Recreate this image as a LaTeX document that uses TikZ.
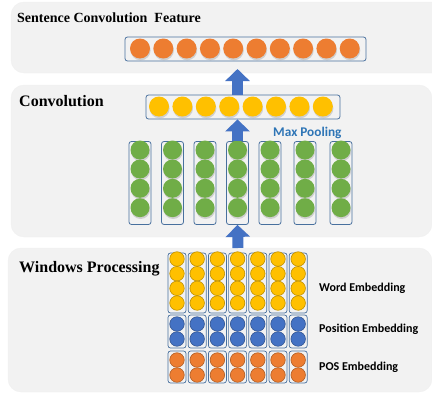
\documentclass[tikz,border=0pt]{standalone}
\usepackage{fontspec}
\setmainfont{Liberation Serif}
\newfontfamily\calibri{Carlito}
\usetikzlibrary{arrows.meta, positioning, shadows}
\definecolor{panelgray}{RGB}{242,242,242}
\definecolor{boxblue}{RGB}{72,112,158}
\definecolor{cnnorange}{RGB}{237,125,49}
\definecolor{cnnyellow}{RGB}{255,192,0}
\definecolor{cnngreen}{RGB}{112,173,71}
\definecolor{cnnblue}{RGB}{68,114,196}
\definecolor{poolblue}{RGB}{46,117,182}

\tikzset{
  panel/.style={fill=panelgray, draw=gray!12, rounded corners=13pt},
  layerbox/.style={draw=boxblue, line width=0.8pt, rounded corners=2.5pt, inner sep=0pt},
  unit/.style={circle, inner sep=0pt, minimum size=#1},
  shade/.style={drop shadow={opacity=0.3, shadow xshift=0.6pt, shadow yshift=-1.8pt}},
  rim/.style={draw=#1!75!black, line width=0.6pt},
  title/.style={font=\bfseries\fontsize{16}{18}\selectfont, anchor=base west, inner sep=0pt},
  tag/.style={font=\calibri\bfseries\fontsize{12}{14}\selectfont, anchor=west, inner sep=0pt},
  uparrow/.style={draw=cnnblue, line width=11pt, -{Triangle[width=24pt,length=12pt]}},
}

\begin{document}
\begin{tikzpicture}[x=1pt,y=-1pt]
\useasboundingbox (0,0) rectangle (432,399);
% panels
\fill[panel] (11,2) rectangle (450,73);
\fill[panel] (11,85) rectangle (432,237);
\fill[panel] (8,248) rectangle (432,392);
\node[title, font=\bfseries\fontsize{14}{16}\selectfont] (tfeat) at (17,22) {Sentence Convolution\ \ Feature};
\node[title] (tconv) at (19,106) {Convolution};
\node[title] (twin) at (19,272) {Windows Processing};

% sentence feature
\node[layerbox, minimum width=241pt, minimum height=24pt] (feat) at (245.5,49) {};
\foreach \i in {1,...,10}
  \node[unit=20pt, fill=cnnorange, shade] (f\i) at ({140+23.3*(\i-1)},48.5) {};

% max pooled row
\node[layerbox, minimum width=194pt, minimum height=24pt] (pool) at (243,107) {};
\foreach \i in {1,...,8}
  \node[unit=20pt, fill=cnnyellow, shade] (p\i) at ({159+23.4*(\i-1)},106.5) {};
\node[tag, font=\calibri\bfseries\fontsize{13.3}{15}\selectfont, text=poolblue] (tpool) at (273,133) {Max Pooling};

% convolution columns
\foreach \x [count=\i] in {140,172.5,205,237.5,270,305,341} {
  \node[layerbox, minimum width=22pt, minimum height=83pt] (c\i) at (\x,183) {};
  \foreach \y [count=\j] in {150,169,188.3,207.7}
    \node[unit=19pt, fill=cnngreen, shade] (c\i-\j) at (\x,\y) {};
}

% windows
\foreach \i in {1,...,7} {
  \node[layerbox, line width=0.7pt, minimum width=18pt, minimum height=60pt] (ww\i) at ({177+20.2*(\i-1)},283) {};
  \node[layerbox, line width=0.7pt, minimum width=18pt, minimum height=33pt] (wp\i) at ({177+20.2*(\i-1)},331.5) {};
  \node[layerbox, line width=0.7pt, minimum width=18pt, minimum height=32pt] (ws\i) at ({177+20.2*(\i-1)},367) {};
  \foreach \j in {1,...,4}
    \node[unit=14.5pt, fill=cnnyellow, rim=cnnyellow] (ww\i-\j) at ({177+20.2*(\i-1)},{259+14.67*(\j-1)}) {};
  \foreach \y [count=\j] in {324,339}
    \node[unit=14.5pt, fill=cnnblue, rim=cnnblue] (wp\i-\j) at ({177+20.2*(\i-1)},\y) {};
  \foreach \y [count=\j] in {360,375}
    \node[unit=14.5pt, fill=cnnorange, rim=cnnorange] (ws\i-\j) at ({177+20.2*(\i-1)},\y) {};
}
\node[tag] (tword) at (319,288) {Word Embedding};
\node[tag] (tpos) at (319,329) {Position Embedding};
\node[tag] (tpost) at (319,367) {POS Embedding};

% arrows
\coordinate (featin) at (237.5,69);
\coordinate (winout) at (238,248);
\draw[uparrow] (pool.north -| featin) -- (featin);
\draw[uparrow] (c4.north) -- (c4.north |- pool.south);
\draw[uparrow] (winout) -- (c4.south);
\end{tikzpicture}
\end{document}
